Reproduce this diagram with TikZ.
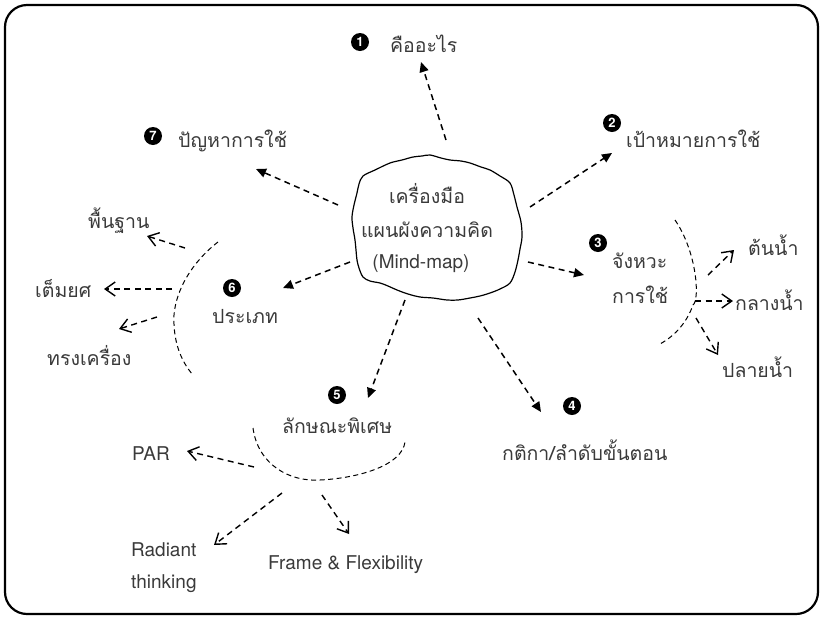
\documentclass[tikz,border=0pt]{standalone}
\usepackage{fontspec}
\setmainfont{TeX Gyre Heros}
\newfontfamily\thai[Script=Thai]{Loma}
\usetikzlibrary{arrows.meta}
\definecolor{ink}{HTML}{3A3A3A}
\begin{document}
\begin{tikzpicture}[x=1pt,y=-1pt,
  th/.style={font=\thai\fontsize{19.5}{22}\selectfont, text=ink, inner sep=0pt},
  la/.style={font=\fontsize{19}{22}\selectfont, text=ink, inner sep=0pt},
  num/.style={circle, fill=black, text=white, inner sep=0pt, minimum size=18pt,
    font=\bfseries\fontsize{13}{13}\selectfont},
  mainarrow/.style={line width=1.5pt, dash pattern=on 6pt off 4.5pt,
    -{Triangle[length=10pt,width=9pt]}},
  subarrow/.style={line width=1.4pt, dash pattern=on 6pt off 4.5pt,
    -{Straight Barb[length=10pt,width=14pt,line width=1.4pt]}},
  arcline/.style={line width=1pt, dash pattern=on 5pt off 3.5pt}]
\useasboundingbox (0,0) rectangle (823,619);
% outer frame
\draw[line width=2.2pt, rounded corners=22pt] (5,5) rectangle (818,614);

% central cloud
\draw[line width=1.2pt] plot[smooth cycle, tension=0.55] coordinates {
  (363,176) (375,170) (390,163) (402,160) (413,157) (422,156) (430,155)
  (441,158) (450,160) (461,161) (470,163) (481,167) (490,170) (500,176)
  (510,183) (514,195) (517,207) (521,222) (522,237) (520,249) (518,260)
  (515,272) (510,283) (500,289) (490,293) (480,296) (470,298) (458,300)
  (447,300) (433,298) (420,297) (408,294) (397,290) (388,286) (380,283)
  (370,281) (363,277) (359,268) (357,260) (356,250) (355,240) (353,228)
  (352,217) (354,205) (357,193) (359,184)};
\node[th, anchor=base] (c1) at (427,203) {เครื่องมือ};
\node[th, anchor=base] (c2) at (427,237) {แผนผังความคิด};
\node[la, anchor=base] (c3) at (421,268) {(Mind-map)};

% anchor points on the cloud
\coordinate (s1) at (446,140);
\coordinate (s2) at (530,207);
\coordinate (s3) at (528,262);
\coordinate (s4) at (478,318);
\coordinate (s5) at (405,300);
\coordinate (s6) at (350,262);
\coordinate (s7) at (338,205);

% 1
\node[num] (n1) at (360,42) {1};
\node[th, anchor=base west] (t1) at (390,52) {คืออะไร};
\coordinate (e1) at (421,62);
\draw[mainarrow] (s1) -- (e1);

% 2
\node[num] (n2) at (612,123) {2};
\node[th, anchor=base west] (t2) at (626,147) {เป้าหมายการใช้};
\coordinate (e2) at (612,153);
\draw[mainarrow] (s2) -- (e2);

% 3
\node[num] (n3) at (598,243) {3};
\node[th, anchor=base west] (t3a) at (612,268) {จังหวะ};
\node[th, anchor=base west] (t3b) at (612,303) {การใช้};
\coordinate (e3) at (584,275);
\draw[mainarrow] (s3) -- (e3);
\draw[arcline] (675,220) .. controls (697,252) and (700,300) .. (693,305)
  .. controls (686,325) and (672,338) .. (658,345);
\node[th, anchor=base west] (t3c) at (748,255) {ต้นน้ำ};
\node[th, anchor=base west] (t3d) at (735,310) {กลางน้ำ};
\node[th, anchor=base west] (t3e) at (722,377) {ปลายน้ำ};
\coordinate (a3c) at (708,275); \coordinate (b3c) at (734,250);
\coordinate (a3d) at (695,301); \coordinate (b3d) at (733,301);
\coordinate (a3e) at (696,318); \coordinate (b3e) at (718,355);
\draw[subarrow] (a3c) -- (b3c);
\draw[subarrow] (a3d) -- (b3d);
\draw[subarrow] (a3e) -- (b3e);

% 4
\node[num] (n4) at (572,406) {4};
\node[th, anchor=base west] (t4) at (502,460) {กติกา/ลำดับขั้นตอน};
\coordinate (e4) at (541,412);
\draw[mainarrow] (s4) -- (e4);

% 5
\node[num] (n5) at (337,395) {5};
\node[th, anchor=base west] (t5) at (282,433) {ลักษณะพิเศษ};
\coordinate (e5) at (368,398);
\draw[mainarrow] (s5) -- (e5);
\draw[arcline] (253,428) .. controls (258,465) and (290,482) .. (320,480)
  .. controls (360,478) and (402,465) .. (405,442);
\node[la, anchor=base west] (t5a) at (132,460) {PAR};
\node[la, anchor=base west] (t5b) at (131,556) {Radiant};
\node[la, anchor=base west] (t5c) at (131,588) {thinking};
\node[la, anchor=base west] (t5d) at (268,569) {Frame \& Flexibility};
\coordinate (a5a) at (254,467); \coordinate (b5a) at (187,451);
\coordinate (a5b) at (282,493); \coordinate (b5b) at (214,545);
\coordinate (a5c) at (322,495); \coordinate (b5c) at (349,534);
\draw[subarrow] (a5a) -- (b5a);
\draw[subarrow] (a5b) -- (b5b);
\draw[subarrow] (a5c) -- (b5c);

% 6
\node[num] (n6) at (232,288) {6};
\node[th, anchor=base west] (t6) at (212,323) {ประเภท};
\coordinate (e6) at (283,288);
\draw[mainarrow] (s6) -- (e6);
\draw[arcline] (218,242) .. controls (192,262) and (176,290) .. (174,315)
  .. controls (173,340) and (180,360) .. (193,375);
\node[th, anchor=base west] (t6a) at (88,228) {พื้นฐาน};
\node[th, anchor=base west] (t6b) at (35,297) {เต็มยศ};
\node[th, anchor=base west] (t6c) at (47,365) {ทรงเครื่อง};
\coordinate (a6a) at (185,248); \coordinate (b6a) at (147,236);
\coordinate (a6b) at (172,289); \coordinate (b6b) at (104,289);
\coordinate (a6c) at (157,317); \coordinate (b6c) at (119,329);
\draw[subarrow] (a6a) -- (b6a);
\draw[subarrow] (a6b) -- (b6b);
\draw[subarrow] (a6c) -- (b6c);

% 7
\node[num] (n7) at (153,136) {7};
\node[th, anchor=base west] (t7) at (178,147) {ปัญหาการใช้};
\coordinate (e7) at (256,169);
\draw[mainarrow] (s7) -- (e7);
\end{tikzpicture}
\end{document}
